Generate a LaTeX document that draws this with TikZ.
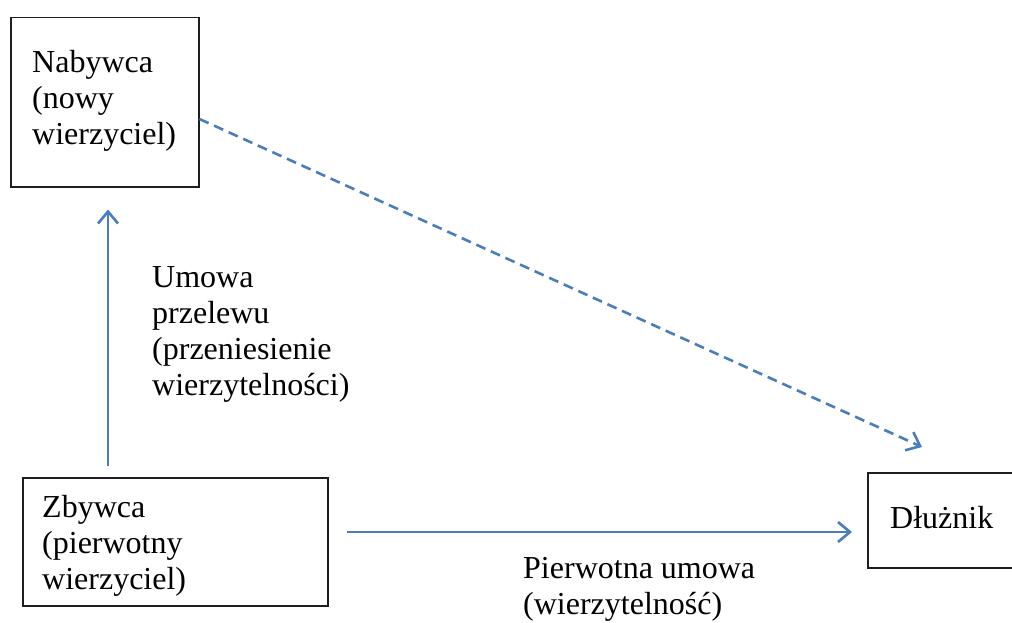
\documentclass[tikz,border=0pt]{standalone}
\usepackage{fontspec}
\setmainfont{Liberation Serif}
\usetikzlibrary{arrows.meta}
\definecolor{arrowblue}{RGB}{74,126,187}
\definecolor{boxgray}{RGB}{30,30,30}
\begin{document}
\begin{tikzpicture}[x=1pt,y=-1pt,
  box/.style={draw=boxgray,line width=1.5pt,inner sep=0pt,anchor=north west},
  txt/.style={anchor=base west,inner sep=0pt,font=\fontsize{32}{36}\selectfont},
  arr/.style={draw=arrowblue,line width=2.6pt,-{Straight Barb[length=12pt,width=20pt]}},
  dasharr/.style={arr,dash pattern=on 10pt off 6pt}]
\useasboundingbox (0,0) rectangle (1012,623);
\fill[white] (0,0) rectangle (1012,623);
% boxes
\node[box,minimum width=188pt,minimum height=169pt] (nab) at (10,17) {};
\node[box,minimum width=305pt,minimum height=128pt] (zb) at (22,477) {};
\node[box,minimum width=170pt,minimum height=95pt] (dl) at (867,472) {};
% box texts
\node[txt] (nab1) at (32,73) {Nabywca};
\node[txt] (nab2) at (32,109) {(nowy};
\node[txt] (nab3) at (32,145) {wierzyciel)};
\node[txt] (zb1) at (42,517) {Zbywca};
\node[txt] (zb2) at (42,553) {(pierwotny};
\node[txt] (zb3) at (42,589) {wierzyciel)};
\node[txt] (dl1) at (890,528) {Dłużnik};
% labels
\node[txt] (u1) at (152,287) {Umowa};
\node[txt] (u2) at (152,323) {przelewu};
\node[txt] (u3) at (152,359) {(przeniesienie};
\node[txt] (u4) at (152,395) {wierzytelności)};
\node[txt] (p1) at (523,578) {Pierwotna umowa};
\node[txt] (p2) at (523,614) {(wierzytelność)};
% connectors
\draw[arr] ([shift={(86,-11)}]zb.north west) -- ([shift={(98,22)}]nab.south west);
\draw[arr] ([shift={(18,55)}]zb.north east) -- ([shift={(-15,60)}]dl.north west);
\draw[dasharr] ([shift={(0,102)}]nab.north east) -- ([shift={(55,-25)}]dl.north west);
\end{tikzpicture}
\end{document}
